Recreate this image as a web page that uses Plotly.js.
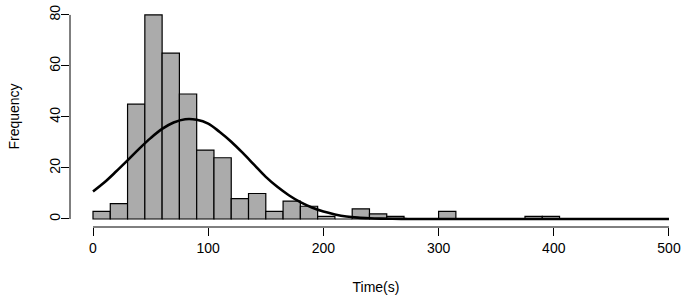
<!DOCTYPE html>
<html>
<head>
<meta charset="utf-8">
<script src="https://cdn.plot.ly/plotly-3.0.1.min.js"></script>
<style>html,body{margin:0;padding:0;background:#fff;}#chart{width:682px;height:299px;}</style>
</head>
<body>
<div id="chart"></div>
<script>
// Histogram bins (left edges, width 15 s) and frequencies
const binStarts = [0, 15, 30, 45, 60, 75, 90, 105, 120, 135, 150, 165, 180, 195, 210, 225, 240, 255, 270, 285, 300, 315, 330, 345, 360, 375, 390];
const counts    = [3, 6, 45, 80, 65, 49, 27, 24, 8, 10, 3, 7, 5, 1, 0, 4, 2, 1, 0, 0, 3, 0, 0, 0, 0, 1, 1];
const binWidth = 15;

// Fitted curve
const curveX = [0, 10, 20, 30, 40, 50, 60, 70, 80, 90, 100, 110, 120, 130, 140, 150, 160, 170, 180, 190, 200, 210, 220, 230, 240, 250, 260, 270, 280, 300, 350, 400, 450, 500];
const curveY = [10.8, 14.4, 18.6, 23.0, 27.5, 31.7, 35.3, 37.8, 39.1, 38.9, 37.4, 34.1, 30.3, 25.9, 21.2, 16.5, 12.6, 9.3, 6.6, 4.5, 2.9, 1.8, 1.0, 0.55, 0.3, 0.15, 0.07, 0.03, 0.01, 0, 0, 0, 0, 0];

const xTicks = [0, 100, 200, 300, 400, 500];
const yTicks = [0, 20, 40, 60, 80];

const centers = binStarts.map(s => s + binWidth / 2);
const font = {family: '"Liberation Sans", Arial, sans-serif', size: 14, color: '#000'};

const traces = [
  {
    type: 'bar', x: centers, y: counts, width: binWidth,
    marker: {color: '#ababab', line: {color: '#000', width: 1.2}},
    hoverinfo: 'skip'
  },
  {
    type: 'scatter', mode: 'lines', x: curveX, y: curveY,
    line: {color: '#000', width: 2.6, shape: 'spline'},
    hoverinfo: 'skip'
  }
];

const layout = {
  width: 682, height: 299,
  margin: {l: 70, r: 0, t: 6, b: 72},
  paper_bgcolor: '#fff', plot_bgcolor: '#fff',
  showlegend: false,
  font: font,
  bargap: 0,
  xaxis: {
    range: [-19.97, 511.3], showgrid: false, zeroline: false, showline: false,
    tickmode: 'array', tickvals: xTicks, ticktext: xTicks.map(String),
    ticks: 'outside', ticklen: 8, tickwidth: 1, tickcolor: '#000',
    tickfont: font,
    title: {text: 'Time(s)', font: font, standoff: 27}
  },
  yaxis: {
    range: [-3.14, 83.5], showgrid: false, zeroline: false, showline: false,
    tickmode: 'array', tickvals: yTicks, ticktext: yTicks.map(String),
    ticks: 'outside', ticklen: 8, tickwidth: 1, tickcolor: '#000',
    tickangle: -90, tickfont: font, ticklabelstandoff: -5,
    title: {text: 'Frequency', font: font, standoff: 24}
  },
  shapes: [
    {type: 'line', xref: 'x', yref: 'paper', x0: xTicks[0], x1: xTicks[xTicks.length - 1], y0: 0, y1: 0, line: {color: '#000', width: 1}},
    {type: 'line', xref: 'paper', yref: 'y', x0: 0, x1: 0, y0: yTicks[0], y1: yTicks[yTicks.length - 1], line: {color: '#000', width: 1}}
  ]
};

Plotly.newPlot('chart', traces, layout, {displayModeBar: false, staticPlot: true});
</script>
</body>
</html>
